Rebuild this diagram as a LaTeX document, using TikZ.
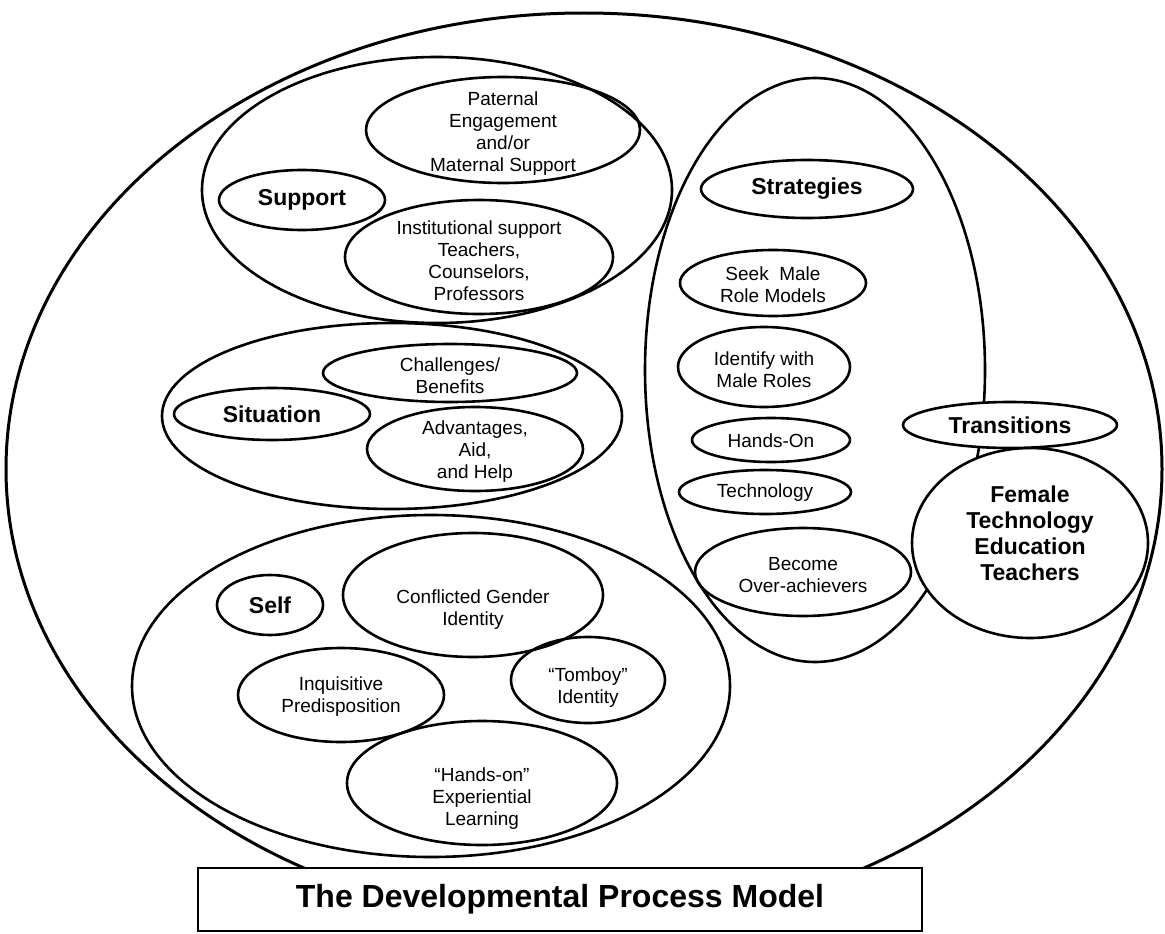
\documentclass[tikz,border=0pt]{standalone}
\usepackage{fontspec}
\setmainfont{Liberation Sans}
\usetikzlibrary{shapes.geometric}
\tikzset{
  bub/.style={draw, ellipse, line width=2.6pt, inner sep=0pt},
  txt/.style={align=center, font=\fontsize{19}{22}\selectfont},
  head/.style={align=center, font=\fontsize{23}{26}\selectfont\bfseries}
}
\begin{document}
\begin{tikzpicture}[x=1pt,y=-1pt]
\path[use as bounding box, fill=white] (0,0) rectangle (1165,934);

%outer ring
\node[bub,line width=3pt,minimum width=1156,minimum height=912] (outer) at (584,469) {};

%support
\node[bub,minimum width=470,minimum height=266] (support) at (437,190) {};
\node[bub,head,minimum width=166,minimum height=60] (supportL) at (302,200) {Support};
\node[bub,minimum width=274,minimum height=106] (pat) at (503,130) {};
\node[txt] (patT) at (503,134) {Paternal\\Engagement\\and/or\\Maternal Support};
\node[bub,minimum width=268,minimum height=114] (inst) at (479,257) {};
\node[txt] (instT) at (479,261) {Institutional support\\Teachers,\\Counselors,\\Professors};

%situation
\node[bub,minimum width=460,minimum height=186] (situation) at (392,416) {};
\node[bub,head,minimum width=196,minimum height=52] (situationL) at (272,414) {Situation};
\node[bub,minimum width=254,minimum height=58] (chal) at (450,373) {};
\node[txt] (chalT) at (450,376) {Challenges/\\Benefits};
\node[bub,minimum width=216,minimum height=84] (adv) at (475,449) {};
\node[txt] (advT) at (475,452) {Advantages,\\Aid,\\and Help};

%self
\node[bub,minimum width=598,minimum height=342] (self) at (431,686) {};
\node[bub,head,minimum width=106,minimum height=60] (selfL) at (270,605) {Self};
\node[bub,minimum width=260,minimum height=124] (conf) at (473,595) {};
\node[txt] (confT) at (473,610) {Conflicted Gender\\Identity};
\node[bub,minimum width=206,minimum height=94] (inq) at (341,695) {};
\node[txt] (inqT) at (341,697) {Inquisitive\\Predisposition};
\node[bub,minimum width=154,minimum height=86] (tom) at (588,680) {};
\node[txt] (tomT) at (588,688) {``Tomboy''\\Identity};
\node[bub,minimum width=270,minimum height=124] (hands) at (482,783) {};
\node[txt] (handsT) at (482,799) {``Hands-on''\\Experiential\\Learning};

%strategies
\node[bub,minimum width=340,minimum height=584] (strat) at (815,370) {};
\node[bub,head,minimum width=212,minimum height=58] (stratL) at (807,189) {Strategies};
\node[bub,minimum width=186,minimum height=66] (seek) at (773,283) {};
\node[txt] (seekT) at (773,285) {Seek~~Male\\Role Models};
\node[bub,minimum width=172,minimum height=80] (ident) at (764,367) {};
\node[txt] (identT) at (764,370) {Identify with\\Male Roles};
\node[bub,minimum width=158,minimum height=44] (handson) at (771,440) {};
\node[txt] (handsonT) at (771,441) {Hands-On};
\node[bub,minimum width=172,minimum height=44] (tech) at (765,492) {};
\node[txt] (techT) at (765,493) {Technology};
\node[bub,minimum width=216,minimum height=88] (become) at (803,572) {};
\node[txt] (becomeT) at (803,575) {Become\\Over-achievers};

%transitions and teachers
\node[bub,fill=white,minimum width=236,minimum height=190] (female) at (1030,543) {};
\node[head] (femaleT) at (1030,533) {Female\\Technology\\Education\\Teachers};
\node[bub,head,fill=white,minimum width=214,minimum height=46] (trans) at (1010,425) {Transitions};

%title
\node[draw,fill=white,line width=2.5pt,minimum width=724,minimum height=63,
      font=\fontsize{32}{36}\selectfont\bfseries] (title) at (560,899.5) {The Developmental Process Model};

\end{tikzpicture}
\end{document}
